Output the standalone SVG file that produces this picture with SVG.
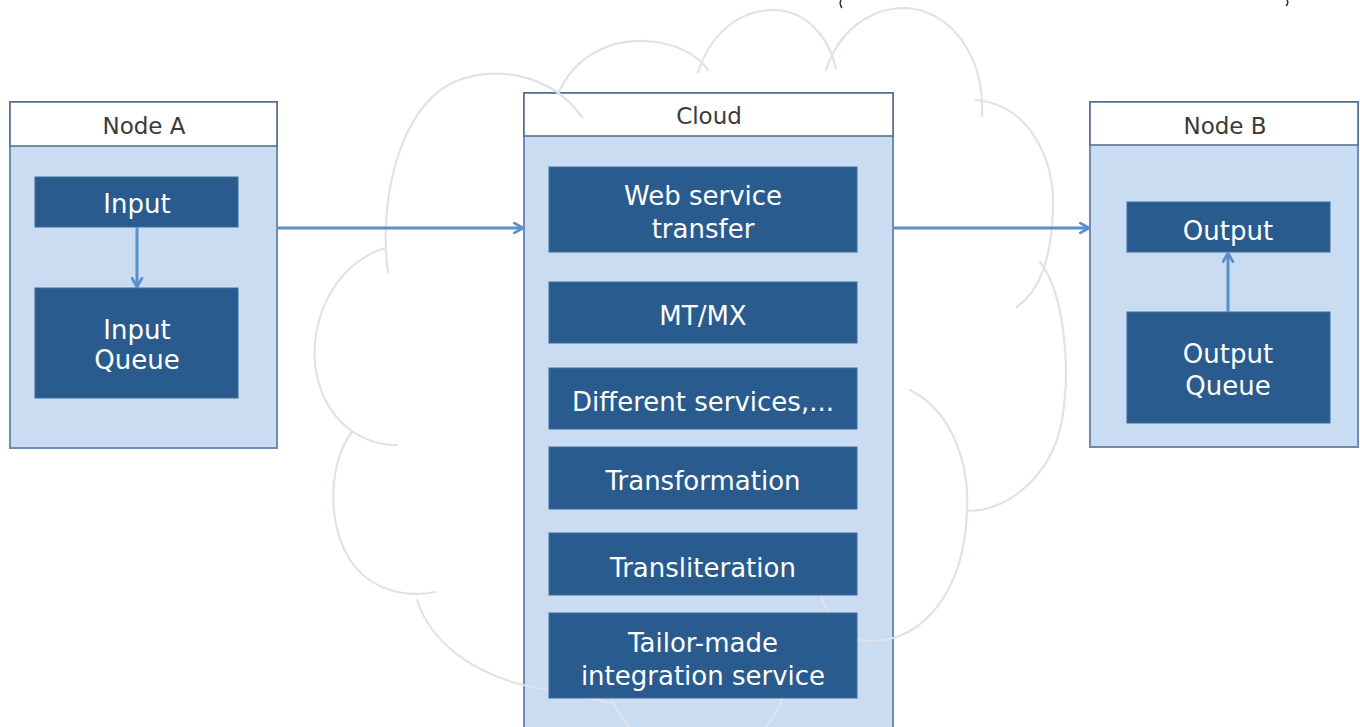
<svg xmlns="http://www.w3.org/2000/svg" width="1360" height="727" viewBox="0 0 1360 727">
<defs>
<style>
.body{fill:#c9dcf1;stroke:#6f8db4;stroke-width:2}
.title{fill:#ffffff;stroke:#4d6a8c;stroke-width:1.5}
.box{fill:#2a5b8e;stroke:#3d6c9c;stroke-width:1}
.ttl{font-family:"DejaVu Sans","Liberation Sans",sans-serif;font-size:23px;fill:#3a3a3a;text-anchor:middle}
.lbl{font-family:"DejaVu Sans","Liberation Sans",sans-serif;font-size:26px;fill:#ffffff;text-anchor:middle}
.conn{stroke:#5b8fcb;stroke-width:3;fill:none}
.cl{fill:none;stroke:#dfe3e9;stroke-width:2.2;stroke-linecap:round}
</style>
<marker id="arr" viewBox="0 0 12 12" refX="10" refY="6" markerWidth="13" markerHeight="13" markerUnits="userSpaceOnUse" orient="auto">
<path d="M2,1.5 L10,6 L2,10.5" fill="none" stroke="#5b8fcb" stroke-width="2.6" stroke-linecap="round" stroke-linejoin="round"/>
</marker>
</defs>
<rect width="1360" height="727" fill="#ffffff"/>
<path d="M841 0 Q839 4 842 8 M1287 0 Q1289 3 1286 6" fill="none" stroke="#333" stroke-width="1.5"/>

<g id="cloud">
<rect class="body" x="524" y="93" width="369" height="650"/>
<rect class="title" x="524" y="93" width="369" height="43"/>
<text class="ttl" x="709" y="124">Cloud</text>
</g>

<g id="cloud-outline">
<path class="cl" d="M388 272 C378 200 400 110 450 84 C490 64 550 72 582 117"/>
<path class="cl" d="M558 94 C575 55 610 40 644 41 C675 42 698 55 708 70"/>
<path class="cl" d="M698 72 C712 30 742 10 773 10 C805 10 828 35 836 68"/>
<path class="cl" d="M826 70 C840 28 872 8 905 8 C950 10 985 55 982 116"/>
<path class="cl" d="M976 100 C1030 105 1055 160 1053 210 C1051 260 1040 290 1017 307"/>
<path class="cl" d="M1040 262 C1062 290 1072 360 1062 420 C1052 475 1010 510 968 511"/>
<path class="cl" d="M910 390 C950 410 970 460 967 512 C964 590 925 640 872 641 C835 642 815 600 812 548"/>
<path class="cl" d="M385 248 C330 265 305 330 318 380 C328 420 360 445 397 445"/>
<path class="cl" d="M352 432 C330 460 325 520 350 560 C370 590 405 598 435 592"/>
<path class="cl" d="M417 600 C430 640 470 675 537 688 C570 695 600 700 615 704"/>
<path class="cl" d="M612 700 C630 740 670 760 700 760 C740 760 770 730 782 700 C786 692 792 686 798 682"/>
</g>

<g id="web-service-transfer">
<rect class="box" x="549" y="167" width="308" height="85"/>
<text class="lbl" x="703" y="205">Web service</text>
<text class="lbl" x="703" y="238">transfer</text>
</g>
<g id="mt-mx">
<rect class="box" x="549" y="282" width="308" height="61"/>
<text class="lbl" x="703" y="325">MT/MX</text>
</g>
<g id="different-services">
<rect class="box" x="549" y="368" width="308" height="61"/>
<text class="lbl" x="703" y="411">Different services,...</text>
</g>
<g id="transformation">
<rect class="box" x="549" y="447" width="308" height="62"/>
<text class="lbl" x="703" y="490">Transformation</text>
</g>
<g id="transliteration">
<rect class="box" x="549" y="533" width="308" height="62"/>
<text class="lbl" x="703" y="577">Transliteration</text>
</g>
<g id="tailor-made">
<rect class="box" x="549" y="613" width="308" height="85"/>
<text class="lbl" x="703" y="652">Tailor-made</text>
<text class="lbl" x="703" y="685">integration service</text>
</g>

<g id="node-a">
<rect class="body" x="10" y="102" width="267" height="346"/>
<rect class="title" x="10" y="102" width="267" height="44"/>
<text class="ttl" x="144" y="134">Node A</text>
</g>
<g id="input">
<rect class="box" x="35" y="177" width="203" height="50"/>
<text class="lbl" x="137" y="213">Input</text>
</g>
<g id="input-queue">
<rect class="box" x="35" y="288" width="203" height="110"/>
<text class="lbl" x="137" y="339">Input</text>
<text class="lbl" x="137" y="369">Queue</text>
</g>

<g id="node-b">
<rect class="body" x="1090" y="102" width="268" height="345"/>
<rect class="title" x="1090" y="102" width="268" height="43"/>
<text class="ttl" x="1225" y="134">Node B</text>
</g>
<g id="output">
<rect class="box" x="1127" y="202" width="203" height="50"/>
<text class="lbl" x="1228" y="240">Output</text>
</g>
<g id="output-queue">
<rect class="box" x="1127" y="312" width="203" height="111"/>
<text class="lbl" x="1228" y="363">Output</text>
<text class="lbl" x="1228" y="395">Queue</text>
</g>

<g id="connectors">
<line class="conn" x1="137" y1="227" x2="137" y2="287" marker-end="url(#arr)"/>
<line class="conn" x1="1228" y1="312" x2="1228" y2="253" marker-end="url(#arr)"/>
<line class="conn" x1="277" y1="228" x2="523" y2="228" marker-end="url(#arr)"/>
<line class="conn" x1="893" y1="228" x2="1089" y2="228" marker-end="url(#arr)"/>
</g>
</svg>
